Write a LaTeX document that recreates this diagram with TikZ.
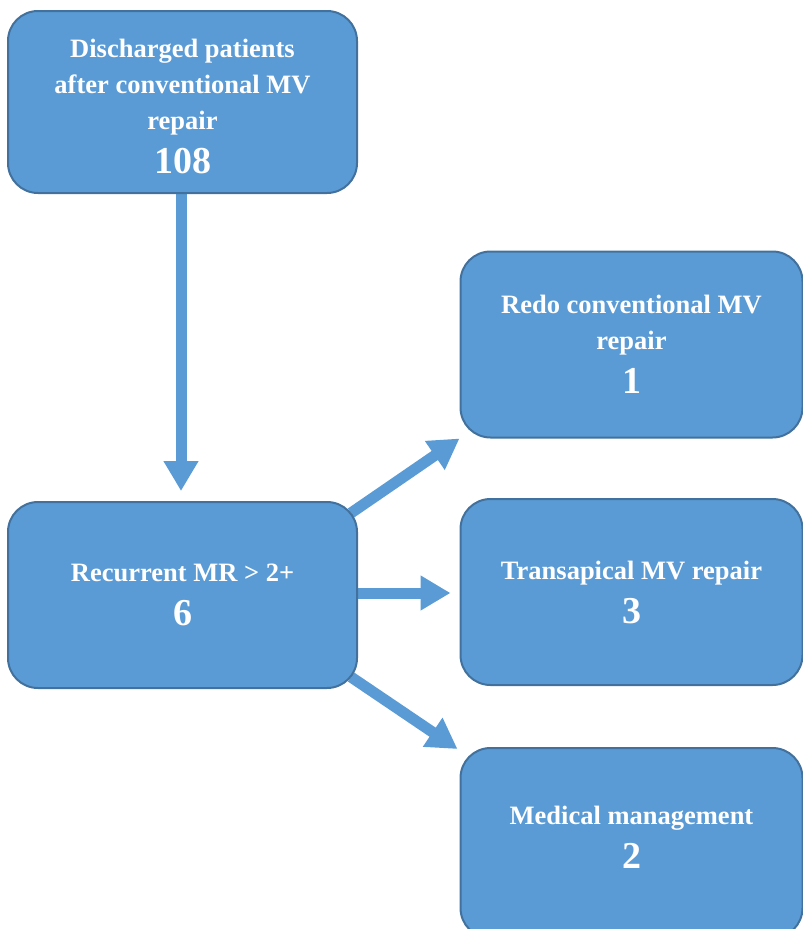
\documentclass[tikz,border=0pt]{standalone}
\usepackage{fontspec}
\setmainfont{Liberation Serif}
\newfontface\numface{Liberation Serif Bold}
\usetikzlibrary{arrows.meta, positioning, calc, backgrounds}
\definecolor{flowblue}{HTML}{5B9BD5}
\definecolor{flowedge}{HTML}{41719C}
\newcommand{\bignum}[1]{{\numface\fontsize{38}{44}\selectfont #1}}

\begin{document}
\begin{tikzpicture}[x=1pt, y=-1pt,
      box/.style={draw=flowedge, line width=2pt, rounded corners=30pt, fill=flowblue, text=white, font=\bfseries\fontsize{26.5}{36}\selectfont, align=center, inner sep=0pt},
      leftbox/.style={box, minimum width=349pt, minimum height=182pt},
      rightbox/.style={box, minimum width=342pt, minimum height=186pt},
      flow/.style={-{Triangle[length=30pt, width=33pt]}, line width=11pt, draw=flowblue}
    ]
      \useasboundingbox (0,0) rectangle (803,929);
      \clip (0,0) rectangle (803,929);
      \node[leftbox] (discharged) at (182.5,102) {\\[-8pt]Discharged patients\\after conventional MV\\repair\\[8pt]\bignum{108}};
      \node[leftbox, minimum height=186pt] (recurrent) at (182.5,595) {Recurrent MR > 2+\\[8pt]\bignum{6}};
      \node[rightbox] (redo) at (631.5,344.5) {Redo conventional MV\\repair\\[8pt]\bignum{1}};
      \node[rightbox] (transapical) at (631.5,592) {Transapical MV repair\\[8pt]\bignum{3}};
      \node[rightbox, minimum height=190pt] (medical) at (631.5,843) {Medical management\\[8pt]\bignum{2}\\[-24pt]};
      \begin{scope}[on background layer]
        \draw[flow, shorten >=10pt] (discharged.south -| 181,0) -- (recurrent.north -| 181,0);
        \draw[flow] ($(recurrent.north east)+(-7,12)$) -- (redo.south west);
        \draw[flow, shorten >=9pt] (recurrent.east |- 0,593) -- (transapical.west |- 0,593);
        \draw[flow] ($(recurrent.south east)+(-7,-12)$) -- ($(medical.north west)+(-2,2)$);
      \end{scope}
    \end{tikzpicture}
\end{document}
